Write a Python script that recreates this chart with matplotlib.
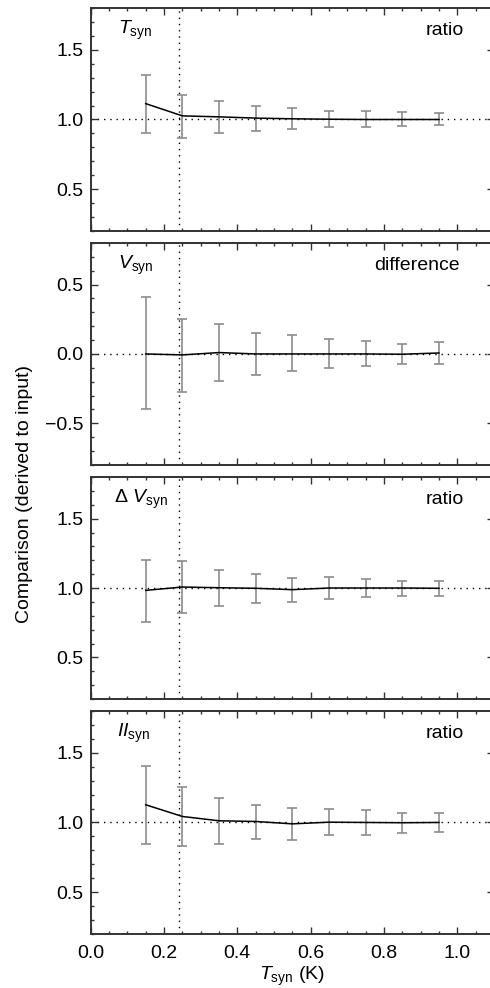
import numpy as np
import matplotlib
matplotlib.use('Agg')
import matplotlib.pyplot as plt
from matplotlib.ticker import MultipleLocator

plt.rcParams['font.family'] = ['Liberation Sans', 'DejaVu Sans']
plt.rcParams['mathtext.fontset'] = 'custom'
plt.rcParams['mathtext.rm'] = 'Liberation Sans'
plt.rcParams['mathtext.it'] = 'Liberation Sans:italic'
plt.rcParams['font.size'] = 14

# データ
t_syn = [0.15, 0.25, 0.35, 0.45, 0.55, 0.65, 0.75, 0.85, 0.95]

t_mid = [1.114, 1.026, 1.019, 1.010, 1.005, 1.002, 1.000, 1.000, 1.000]
t_lo = [0.905, 0.867, 0.900, 0.919, 0.929, 0.943, 0.945, 0.952, 0.957]
t_hi = [1.319, 1.176, 1.136, 1.095, 1.079, 1.062, 1.060, 1.055, 1.048]

v_mid = [0.000, -0.007, 0.010, 0.000, 0.000, 0.000, 0.000, -0.002, 0.007]
v_lo = [-0.400, -0.271, -0.198, -0.150, -0.124, -0.098, -0.088, -0.076, -0.069]
v_hi = [0.407, 0.255, 0.217, 0.150, 0.138, 0.110, 0.093, 0.074, 0.083]

dv_mid = [0.983, 1.007, 1.002, 0.998, 0.988, 1.000, 1.000, 1.000, 0.998]
dv_lo = [0.757, 0.817, 0.871, 0.890, 0.900, 0.919, 0.936, 0.943, 0.943]
dv_hi = [1.202, 1.193, 1.129, 1.100, 1.074, 1.079, 1.064, 1.052, 1.052]

ii_mid = [1.127, 1.043, 1.012, 1.007, 0.990, 1.002, 1.000, 0.998, 1.000]
ii_lo = [0.842, 0.833, 0.845, 0.883, 0.873, 0.907, 0.911, 0.923, 0.931]
ii_hi = [1.404, 1.251, 1.172, 1.127, 1.103, 1.096, 1.089, 1.069, 1.069]

panels = [
    (t_mid, t_lo, t_hi, r'$T_{\rm syn}$', 'ratio', 1.0, (0.2, 1.8)),
    (v_mid, v_lo, v_hi, r'$V_{\rm syn}$', 'difference', 0.0, (-0.8, 0.8)),
    (dv_mid, dv_lo, dv_hi, r'$\Delta\ V_{\rm syn}$', 'ratio', 1.0, (0.2, 1.8)),
    (ii_mid, ii_lo, ii_hi, r'$II_{\rm syn}$', 'ratio', 1.0, (0.2, 1.8)),
]

# 各パネルの位置 (図の割合)
bottoms = [0.7662, 0.5294, 0.2925, 0.0547]
heights = [0.2257, 0.2247, 0.2247, 0.2257]
name_x = [0.068, 0.068, 0.058, 0.065]
kind_x = [0.925, 0.915, 0.925, 0.925]
left = 0.1851
width = 0.823
t_limit = 0.24

fig = plt.figure(figsize=(4.9, 9.88), dpi=100)
spine_col = '#333333'

for i, (mid, lo, hi, name, kind, ref, ylim) in enumerate(panels):
    ax = fig.add_axes([left, bottoms[i], width, heights[i]])
    mid = np.array(mid)
    yerr = [mid - np.array(lo), np.array(hi) - mid]
    ax.errorbar(t_syn, mid, yerr=yerr, fmt='none', ecolor='#8c8c8c',
                elinewidth=1.2, capsize=3.8, capthick=1.2, zorder=2)
    ax.plot(t_syn, mid, color='black', lw=1.1, zorder=3)
    ax.axhline(ref, color='black', lw=1.0, ls=(0, (1, 3.5)), zorder=1)
    ax.axvline(t_limit, color='black', lw=1.0, ls=(0, (1, 3.5)), zorder=1)

    ax.set_xlim(0, 1.1)
    ax.set_ylim(*ylim)
    ax.xaxis.set_major_locator(MultipleLocator(0.2))
    ax.xaxis.set_minor_locator(MultipleLocator(0.05))
    ax.yaxis.set_major_locator(MultipleLocator(0.5))
    ax.yaxis.set_minor_locator(MultipleLocator(0.1))
    ax.tick_params(which='both', direction='in', top=True, right=True,
                   color=spine_col, width=1.0)
    ax.tick_params(which='major', length=5)
    ax.tick_params(which='minor', length=2.5)
    ax.tick_params(axis='y', pad=5)
    ax.tick_params(axis='x', pad=8)
    for s in ax.spines.values():
        s.set_color(spine_col)
        s.set_linewidth(1.4)
    if i < 3:
        ax.set_xticklabels([])
    else:
        ax.set_xlabel(r'$T_{\rm syn}$ (K)', labelpad=2)

    ax.text(name_x[i], 0.9, name, transform=ax.transAxes,
            ha='left', va='center')
    ax.text(kind_x[i], 0.9, kind, transform=ax.transAxes, ha='right', va='center')

fig.text(0.051, 0.5, 'Comparison (derived to input)', rotation=90,
         ha='center', va='center')

plt.savefig('out.png', dpi=100)
